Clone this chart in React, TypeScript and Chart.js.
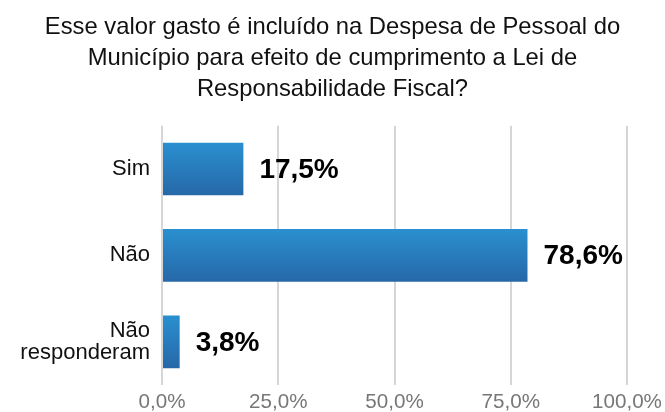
import React, { useEffect, useRef } from "react";
import { Chart, registerables } from "chart.js";

Chart.register(...registerables);

const titleLines = [
  "Esse valor gasto é incluído na Despesa de Pessoal do",
  "Município para efeito de cumprimento a Lei de",
  "Responsabilidade Fiscal?",
];
const categories: (string | string[])[] = ["Sim", "Não", ["Não", "responderam"]];
const values = [17.5, 78.6, 3.8];
const xTicks = [0, 25, 50, 75, 100];

const FONT = "'Liberation Sans', Arial, Helvetica, sans-serif";

const fmt = (v: number) => v.toFixed(1).replace(".", ",") + "%";

const valueLabels = {
  id: "valueLabels",
  afterDatasetsDraw(chart: any) {
    const ctx = chart.ctx;
    const meta = chart.getDatasetMeta(0);
    ctx.save();
    ctx.font = `bold 28px ${FONT}`;
    ctx.fillStyle = "#000";
    ctx.textAlign = "left";
    ctx.textBaseline = "middle";
    meta.data.forEach((bar: any, i: number) => {
      ctx.fillText(fmt(values[i]), bar.x + 16, bar.y + 1);
    });
    ctx.restore();
  },
};

export default function App() {
  const ref = useRef<HTMLCanvasElement>(null);
  useEffect(() => {
    if (!ref.current) return;
    const chart = new Chart(ref.current, {
      type: "bar",
      data: {
        labels: categories,
        datasets: [
          {
            data: values,
            backgroundColor: (c: any) => {
              const chart = c.chart;
              const ys = chart.scales?.y;
              if (!chart.chartArea || !ys || c.dataIndex === undefined) return "#2a7cbf";
              const cy = ys.getPixelForValue(c.dataIndex);
              const g = chart.ctx.createLinearGradient(0, cy - 27, 0, cy + 27);
              g.addColorStop(0, "#2a90d0");
              g.addColorStop(1, "#2667a7");
              return g;
            },
            borderWidth: 0,
            barPercentage: 0.61,
            categoryPercentage: 1,
          },
        ],
      },
      options: {
        indexAxis: "y",
        animation: false,
        responsive: true,
        maintainAspectRatio: false,
        layout: { padding: 0 },
        plugins: {
          legend: { display: false },
          tooltip: { enabled: false },
          title: {
            display: true,
            text: titleLines,
            color: "#111",
            font: { family: FONT, size: 23.8, weight: "normal", lineHeight: 1.3 },
            padding: { top: 12, bottom: 21 },
          },
        },
        scales: {
          x: {
            min: 0,
            max: 100,
            afterBuildTicks: (s: any) => {
              s.ticks = xTicks.map((v) => ({ value: v }));
            },
            afterFit: (s: any) => {
              s.height = 27;
              s.paddingRight = 38;
              s.paddingLeft = 0;
            },
            ticks: {
              callback: (v: any) => fmt(Number(v)),
              color: "#777",
              font: { family: FONT, size: 20.6, lineHeight: 1 },
              padding: 7,
              maxRotation: 0,
            },
            grid: { color: "#d6d6d6", lineWidth: 2, drawTicks: false },
            border: { display: false },
          },
          y: {
            afterFit: (s: any) => {
              s.width = 162;
              s.paddingTop = 0;
              s.paddingBottom = 0;
            },
            ticks: {
              color: "#111",
              font: { family: FONT, size: 22, lineHeight: 1.0 },
              padding: 12,
            },
            grid: { display: false, drawTicks: false },
            border: { display: false },
          },
        },
      },
      plugins: [valueLabels],
    } as any);
    return () => chart.destroy();
  }, []);
  return (
    <div style={{ position: "fixed", left: 0, top: 0, width: 665, height: 412, background: "#fff" }}>
      <canvas ref={ref} />
    </div>
  );
}
